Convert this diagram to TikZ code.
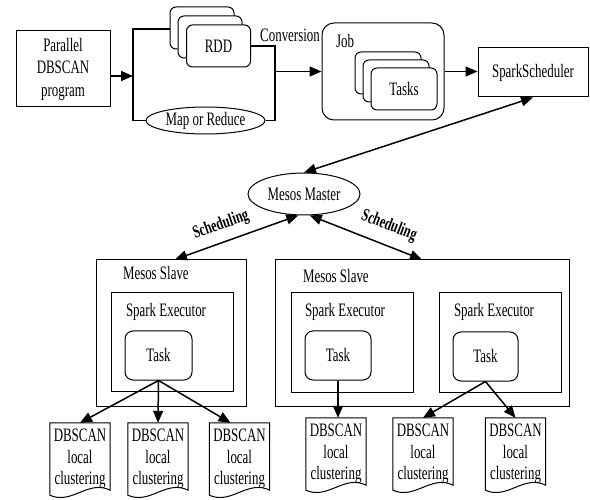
\documentclass[tikz,border=0pt]{standalone}
\usepackage{fontspec}
\setmainfont{Liberation Serif}[FakeStretch=0.68]
\usetikzlibrary{arrows.meta, positioning, shapes.geometric, calc}

\begin{document}
\begin{tikzpicture}[x=1pt, y=-1pt,
		every node/.style={font=\fontsize{19}{22.5}\selectfont},
		box/.style={rectangle, draw, line width=1pt, inner sep=0pt, align=center},
		card/.style={box, rounded corners=6pt, fill=white, minimum width=64pt, minimum height=42pt},
		oval/.style={ellipse, draw, line width=1pt, inner sep=0pt},
		doc/.style={rectangle, inner sep=0pt, minimum width=60pt, minimum height=72pt, align=center, font=\fontsize{19}{21.5}\selectfont},
		link/.style={line width=1.5pt},
		arrow/.style={-{Triangle[length=12pt, width=10pt]}, line width=1.5pt},
		twoway/.style={{Triangle[length=12pt, width=10pt]}-{Triangle[length=12pt, width=10pt]}, line width=1.5pt}
	]
	\useasboundingbox (0,0) rectangle (590,500);
	
	% Program and RDD stage
	\node[box, minimum width=94pt, minimum height=76pt] (prog) at (63,69) {Parallel\\DBSCAN\\program};
	\node[card] (rdd3) at (202,28) {};
	\node[card] (rdd2) at (210,37) {};
	\node[card] (rdd1) at (218.5,46) {RDD};
	\node[oval, minimum width=119pt, minimum height=27pt] (map) at (205.5,120.5) {Map or Reduce};
	\node (conv) at (290,35) {Conversion};
	
	% Job with tasks
	\node[box, rounded corners=12pt, minimum width=122pt, minimum height=97pt] (job) at (383,71.5) {};
	\node[anchor=west] (joblbl) at ([xshift=11pt, yshift=-19pt]job.north west) {Job};
	\node[card, minimum width=66pt] (jobt3) at (388,73) {};
	\node[card, minimum width=66pt] (jobt2) at (396,81) {};
	\node[card, minimum width=66pt] (jobt1) at (404,89) {Tasks};
	\node[box, minimum width=110pt, minimum height=49pt] (sched) at (533,72.5) {SparkScheduler};
	
	% Mesos master
	\node[oval, minimum width=112pt, minimum height=42pt] (master) at (304,194) {Mesos Master};
	\node[font=\fontsize{18}{20}\selectfont\bfseries, rotate=19] (schedl) at (221,225) {Scheduling};
	\node[font=\fontsize{18}{20}\selectfont\bfseries, rotate=-21] (schedr) at (389,226) {Scheduling};
	
	% Slaves and executors
	\node[box, minimum width=150pt, minimum height=146pt] (slave1) at (171,333) {};
	\node[box, minimum width=294pt, minimum height=146pt] (slave2) at (422,333) {};
	\node[anchor=west] (slave1lbl) at ([xshift=24pt, yshift=-14pt]slave1.north west) {Mesos Slave};
	\node[anchor=west] (slave2lbl) at ([xshift=25pt, yshift=-17pt]slave2.north west) {Mesos Slave};
	\node[box, minimum width=122pt, minimum height=98pt] (exec1) at (172,342) {};
	\node[box, minimum width=122pt, minimum height=99pt] (exec2) at (352,342.5) {};
	\node[box, minimum width=122pt, minimum height=99pt] (exec3) at (500,342.5) {};
	\node[anchor=west] (exec1lbl) at ([xshift=12pt, yshift=-19pt]exec1.north west) {Spark Executor};
	\node[anchor=west] (exec2lbl) at ([xshift=11pt, yshift=-19pt]exec2.north west) {Spark Executor};
	\node[anchor=west] (exec3lbl) at ([xshift=12pt, yshift=-19pt]exec3.north west) {Spark Executor};
	\node[box, rounded corners=8pt, minimum width=67pt, minimum height=49pt] (task1) at (158.5,355.5) {Task};
	\node[box, rounded corners=8pt, minimum width=66pt, minimum height=49pt] (task2) at (338,355.5) {Task};
	\node[box, rounded corners=8pt, minimum width=65pt, minimum height=49pt] (task3) at (485.5,356.5) {Task};
	
	% Local clustering documents
	\node[doc] (doc1) at (80,459) {DBSCAN\\local\\clustering};
	\node[doc] (doc2) at (158,459) {DBSCAN\\local\\clustering};
	\node[doc] (doc3) at (239.5,459) {DBSCAN\\local\\clustering};
	\node[doc] (doc4) at (336,454) {DBSCAN\\local\\clustering};
	\node[doc] (doc5) at (423,454) {DBSCAN\\local\\clustering};
	\node[doc] (doc6) at (515.5,454) {DBSCAN\\local\\clustering};
	\foreach \d in {doc1,doc2,doc3,doc4,doc5,doc6}
		\draw[line width=1pt] (\d.north west) -- (\d.north east) -- ([yshift=5pt]\d.south east)
			.. controls ([xshift=-22pt, yshift=16pt]\d.south east) and ([xshift=22pt, yshift=-10pt]\d.south west) .. (\d.south west) -- cycle;
	
	% Brackets round RDD and Map or Reduce
	\coordinate (lbt) at (133,29);
	\coordinate (lbm) at (133,76);
	\coordinate (lbb) at (133,120.5);
	\coordinate (rbt) at (275,46);
	\coordinate (rbm) at (275,71.5);
	\coordinate (rbb) at (275,120.5);
	\draw[link] (lbt -| rdd3.west) -- (lbt) -- (lbb) -- (map.west);
	\draw[link] (rdd1.east) -- (rbt) -- (rbb) -- (map.east);
	
	% Flow
	\draw[arrow] (prog.east |- lbm) -- (lbm);
	\draw[arrow] (rbm) -- (job.west);
	\draw[arrow] (job.east) -- (job.east -| sched.west);
	\draw[twoway] (master.north) -- (sched.south);
	\draw[twoway] (master.255) -- ([xshift=4pt]slave1.north);
	\draw[twoway] (master.285) -- (slave2.north);
	\draw[arrow] (task1.south) -- (doc1.north);
	\draw[arrow] (task1.south) -- (doc2.north);
	\draw[arrow] (task1.south) -- ([xshift=-9pt]doc3.north);
	\draw[arrow] (task2.south) -- (task2.south |- doc4.north);
	\draw[arrow] (task3.south) -- (doc5.north);
	\draw[arrow] (task3.south) -- (doc6.north);
\end{tikzpicture}
\end{document}
